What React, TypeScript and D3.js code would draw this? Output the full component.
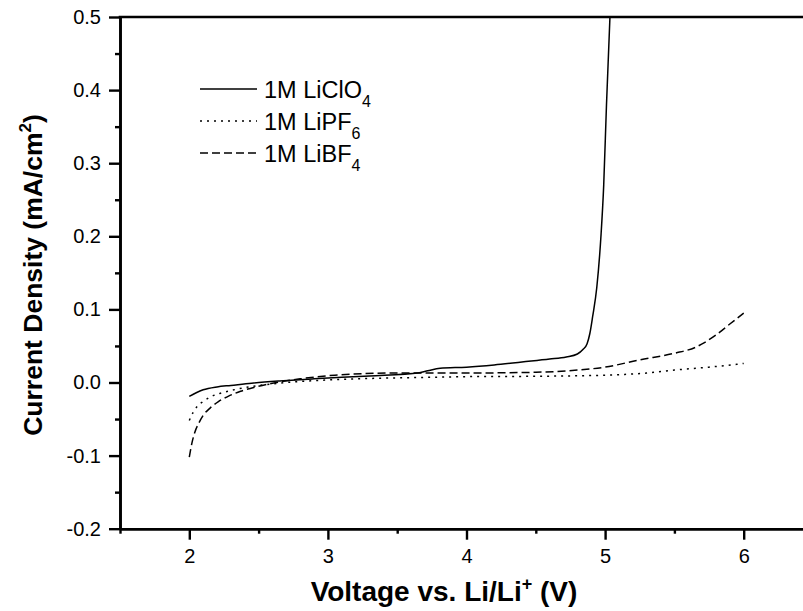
import React, { useRef, useEffect } from "react";
import * as d3 from "d3";

// LSV curves: voltage (V) and current density (mA/cm2)
const clo4Voltage = [2.0, 2.05, 2.1, 2.2, 2.3, 2.45, 2.65, 2.9, 3.3, 3.66, 3.72, 3.81, 4.0, 4.2, 4.4, 4.6, 4.72, 4.8, 4.84, 4.87, 4.89, 4.91, 4.94, 4.97, 4.99, 5.01, 5.035];
const clo4Current = [-0.019, -0.014, -0.01, -0.006, -0.004, -0.001, 0.002, 0.005, 0.009, 0.0134, 0.016, 0.0195, 0.021, 0.024, 0.028, 0.032, 0.035, 0.039, 0.045, 0.053, 0.067, 0.09, 0.13, 0.2, 0.27, 0.38, 0.5];

const pf6Voltage = [2.0, 2.03, 2.06, 2.1, 2.15, 2.22, 2.3, 2.4, 2.55, 2.7, 2.95, 3.3, 3.7, 4.0, 4.5, 5.0, 5.3, 5.5, 5.75, 6.0];
const pf6Current = [-0.052, -0.04, -0.032, -0.026, -0.02, -0.015, -0.011, -0.007, -0.003, 0.0, 0.003, 0.0055, 0.007, 0.008, 0.0085, 0.01, 0.013, 0.017, 0.021, 0.026];

const bf4Voltage = [2.0, 2.02, 2.04, 2.07, 2.1, 2.15, 2.21, 2.28, 2.37, 2.48, 2.6, 2.8, 3.05, 3.5, 4.0, 4.5, 4.8, 5.0, 5.25, 5.5, 5.65, 5.72, 5.8, 5.9, 6.0];
const bf4Current = [-0.102, -0.082, -0.068, -0.055, -0.045, -0.035, -0.026, -0.019, -0.012, -0.006, -0.001, 0.005, 0.01, 0.013, 0.013, 0.014, 0.017, 0.021, 0.031, 0.04, 0.048, 0.055, 0.065, 0.08, 0.095];

const legendSalts = ["LiClO", "LiPF", "LiBF"];
const legendSubs = ["4", "6", "4"];

const xTicks = [2, 3, 4, 5, 6];
const xMinorTicks = [1.5, 2.5, 3.5, 4.5, 5.5, 6.5];
const yTicks = [-0.2, -0.1, 0.0, 0.1, 0.2, 0.3, 0.4, 0.5];
const yTickLabels = ["-0.2", "-0.1", "0.0", "0.1", "0.2", "0.3", "0.4", "0.5"];
const yMinorTicks = [-0.15, -0.05, 0.05, 0.15, 0.25, 0.35, 0.45];

const FONT = "'Liberation Sans', Arial, Helvetica, sans-serif";

function LsvChart() {
  const svgRef = useRef<SVGSVGElement>(null);

  useEffect(() => {
    document.body.style.margin = "0";
    const width = 803;
    const height = 611;
    const left = 120, right = 813, top = 17, bottom = 528.7;

    const svg = d3.select(svgRef.current);
    svg.selectAll("*").remove();
    svg.attr("width", width).attr("height", height).style("background", "#fff");

    const x = d3.scaleLinear().domain([1.5, 6.5]).range([left, right]);
    const y = d3.scaleLinear().domain([-0.2, 0.5]).range([bottom, top]);

    svg.append("clipPath").attr("id", "plot-clip")
      .append("rect")
      .attr("x", left).attr("y", top)
      .attr("width", right - left).attr("height", bottom - top);

    // curves
    const line = d3.line<[number, number]>()
      .x(d => x(d[0]))
      .y(d => y(d[1]))
      .curve(d3.curveMonotoneX);

    const series = [
      { v: clo4Voltage, c: clo4Current, dash: null },
      { v: pf6Voltage, c: pf6Current, dash: "2,5" },
      { v: bf4Voltage, c: bf4Current, dash: "8,4" },
    ];

    const g = svg.append("g").attr("clip-path", "url(#plot-clip)");
    series.forEach(s => {
      const pts = s.v.map((v, i) => [v, s.c[i]] as [number, number]);
      g.append("path")
        .datum(pts)
        .attr("d", line)
        .attr("fill", "none")
        .attr("stroke", "#000")
        .attr("stroke-width", 1.5)
        .attr("stroke-dasharray", s.dash);
    });

    // axes
    const styleAxis = (sel: any) => {
      sel.select(".domain").attr("stroke", "#000").attr("stroke-width", 2.6);
      sel.selectAll(".tick line").attr("stroke", "#000").attr("stroke-width", 2.4);
      sel.selectAll("text")
        .attr("fill", "#000")
        .style("font-family", FONT)
        .style("font-size", "20px");
    };

    svg.append("g")
      .attr("transform", `translate(0,${bottom})`)
      .call(d3.axisBottom(x).tickValues(xMinorTicks).tickSize(5).tickSizeOuter(0).tickFormat(() => ""))
      .call(styleAxis);
    svg.append("g")
      .attr("transform", `translate(0,${bottom})`)
      .call(d3.axisBottom(x).tickValues(xTicks).tickSize(11).tickSizeOuter(0).tickPadding(9).tickFormat(d3.format("d")))
      .call(styleAxis);

    svg.append("g")
      .attr("transform", `translate(${left},0)`)
      .call(d3.axisLeft(y).tickValues(yMinorTicks).tickSize(5).tickSizeOuter(0).tickFormat(() => ""))
      .call(styleAxis);
    svg.append("g")
      .attr("transform", `translate(${left},0)`)
      .call(d3.axisLeft(y).tickValues(yTicks).tickSize(11).tickSizeOuter(0).tickPadding(8)
        .tickFormat((d, i) => yTickLabels[i]))
      .call(styleAxis);

    // top frame line
    svg.append("line")
      .attr("x1", left - 1.3).attr("x2", right)
      .attr("y1", top).attr("y2", top)
      .attr("stroke", "#000").attr("stroke-width", 2.6);

    // axis titles
    const xt = svg.append("text")
      .attr("x", 444).attr("y", 601)
      .attr("text-anchor", "middle")
      .style("font-family", FONT).style("font-weight", "bold").style("font-size", "28px");
    xt.append("tspan").text("Voltage vs. Li/Li");
    xt.append("tspan").attr("dy", -11).style("font-size", "18px").text("+");
    xt.append("tspan").attr("dy", 11).text(" (V)");

    const yt = svg.append("text")
      .attr("transform", "translate(42,275) rotate(-90)")
      .attr("text-anchor", "middle")
      .style("font-family", FONT).style("font-weight", "bold").style("font-size", "26.5px");
    yt.append("tspan").text("Current Density (mA/cm");
    yt.append("tspan").attr("dy", -11).style("font-size", "17px").text("2");
    yt.append("tspan").attr("dy", 11).text(")");

    // legend
    const legendY = [89, 121, 153];
    series.forEach((s, i) => {
      svg.append("line")
        .attr("x1", 200).attr("x2", 257)
        .attr("y1", legendY[i]).attr("y2", legendY[i])
        .attr("stroke", "#000").attr("stroke-width", 1.5)
        .attr("stroke-dasharray", s.dash);
      const t = svg.append("text")
        .attr("x", 264).attr("y", legendY[i] + 8.5)
        .style("font-family", FONT).style("font-size", "23.5px");
      t.append("tspan").text("1M " + legendSalts[i]);
      t.append("tspan").attr("dy", 9).style("font-size", "16px").text(legendSubs[i]);
    });
  }, []);

  return <svg ref={svgRef}></svg>;
}

export default function App() {
  return <LsvChart />;
}
